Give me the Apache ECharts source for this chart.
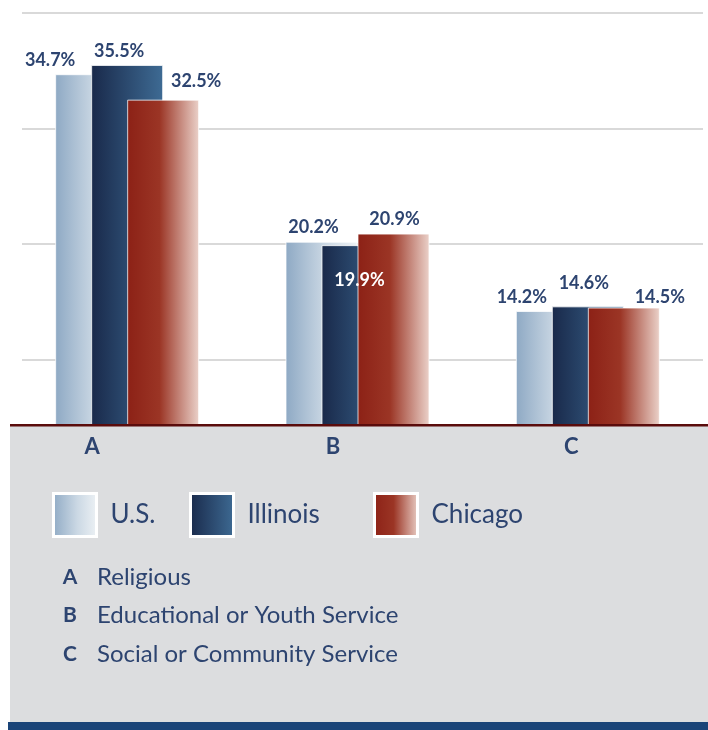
<!DOCTYPE html>
<html>
<head>
<meta charset="utf-8">
<script src="https://cdn.jsdelivr.net/npm/echarts@6/dist/echarts.min.js"></script>
<style>
html, body { margin: 0; padding: 0; background: #fff; }
#chart { width: 708px; height: 730px; }
</style>
</head>
<body>
<div id="chart"></div>
<script>
var categories = ['A', 'B', 'C'];
var categoryNames = ['Religious', 'Educational or Youth Service', 'Social or Community Service'];
var seriesNames = ['U.S.', 'Illinois', 'Chicago'];
var usValues = [34.7, 20.2, 14.2];
var illinoisValues = [35.5, 19.9, 14.6];
var chicagoValues = [32.5, 20.9, 14.5];
var yTicks = [0, 10, 20, 30, 40];

var navy = '#2d4470';

// label nudges so they sit like in the print
var labelOffsets = [
  [[-41, 0], [-8, -1], [-30, 0]],
  [[-8, 0], [2, 49], [-4, -9]],
  [[33, -4], [1, 0], [36, 4]]
];
var barColors = [
  [[0, '#8ea9c4'], [0.55, '#cbd8e4'], [1, '#eef2f5']],
  [[0, '#19294a'], [1, '#3e6b94']],
  [[0, '#8c2116'], [0.45, '#9b3525'], [1, '#ebd2ca']]
];

function grad(stops) {
  return {
    type: 'linear', x: 0, y: 0, x2: 1, y2: 0,
    colorStops: stops.map(function (s) { return { offset: s[0], color: s[1] }; })
  };
}

function makeSeries(idx, values) {
  return {
    name: seriesNames[idx],
    type: 'bar',
    barWidth: 72,
    barGap: '-50%',
    itemStyle: {
      color: grad(barColors[idx]),
      borderColor: 'rgba(255,255,255,0.75)',
      borderWidth: 1
    },
    label: {
      show: true,
      position: 'top',
      distance: 5,
      fontSize: 18,
      fontWeight: 'bold',
      color: navy,
      formatter: '{c}%'
    },
    data: values.map(function (v, i) {
      var item = { value: v, label: { offset: labelOffsets[idx][i] } };
      // the one label printed inside its bar
      if (idx == 1 && i == 1) item.label.color = '#ffffff';
      return item;
    })
  };
}

var legendLeft = [52, 189, 373];
var legends = seriesNames.map(function (n, i) {
  return {
    data: [n],
    left: legendLeft[i],
    top: 492,
    padding: 0,
    icon: 'rect',
    itemWidth: 43,
    itemHeight: 43,
    selectedMode: false,
    itemStyle: { borderColor: '#ffffff', borderWidth: 3 },
    textStyle: { fontSize: 26, color: navy, padding: [0, 0, 0, 9] },
    z: 10
  };
});

var graphics = [
  { type: 'rect', z: 5, shape: { x: 10, y: 425, width: 698, height: 298 }, style: { fill: '#dcdddf' } },
  { type: 'rect', z: 6, shape: { x: 10, y: 424, width: 698, height: 2.5 }, style: { fill: '#5a0c0c' } },
  { type: 'rect', z: 6, shape: { x: 8, y: 722, width: 700, height: 8 }, style: { fill: '#1a4478' } }
];
for (var i = 0; i < categories.length; i++) {
  graphics.push({
    type: 'text', z: 10, x: 70, y: 577 + i * 38.5,
    style: { text: categories[i], font: 'bold 21px Lato', fill: navy, align: 'center', verticalAlign: 'middle' }
  });
  graphics.push({
    type: 'text', z: 10, x: 97, y: 577 + i * 38.5,
    style: { text: categoryNames[i], font: '24px Lato', fill: navy, align: 'left', verticalAlign: 'middle' }
  });
}

var catRich = function (pad) {
  return { fontSize: 22, fontWeight: 'bold', color: navy, padding: [0, pad, 0, 0] };
};

var chart = echarts.init(document.getElementById('chart'));
var option = {
  animation: false,
  backgroundColor: '#ffffff',
  textStyle: { fontFamily: 'Lato' },
  // second grid only carries the grey guide lines, which start a bit further in
  grid: [
    { left: 12, right: 5, top: 13, bottom: 255 },
    { left: 22, right: 5, top: 13, bottom: 255 }
  ],
  legend: legends,
  xAxis: [{
    type: 'category',
    data: categories,
    z: 10,
    axisLine: { show: false },
    axisTick: { show: false },
    axisLabel: {
      margin: -28,
      verticalAlign: 'middle',
      formatter: function (v) { return '{' + v + '|' + v + '}'; },
      rich: { A: catRich(70), B: catRich(49), C: catRich(33) }
    }
  }, {
    type: 'value',
    gridIndex: 1,
    show: false
  }],
  yAxis: [{
    type: 'value',
    min: yTicks[0],
    max: yTicks[yTicks.length - 1],
    interval: yTicks[1] - yTicks[0],
    axisLine: { show: false },
    axisTick: { show: false },
    axisLabel: { show: false },
    splitLine: { show: false }
  }, {
    type: 'value',
    gridIndex: 1,
    min: yTicks[0],
    max: yTicks[yTicks.length - 1],
    interval: yTicks[1] - yTicks[0],
    axisLine: { show: false },
    axisTick: { show: false },
    axisLabel: { show: false },
    splitLine: { lineStyle: { color: '#cccccc', width: 1.5 } }
  }],
  graphic: graphics,
  series: [
    makeSeries(0, usValues),
    makeSeries(1, illinoisValues),
    makeSeries(2, chicagoValues)
  ]
};
chart.setOption(option);
</script>
</body>
</html>
